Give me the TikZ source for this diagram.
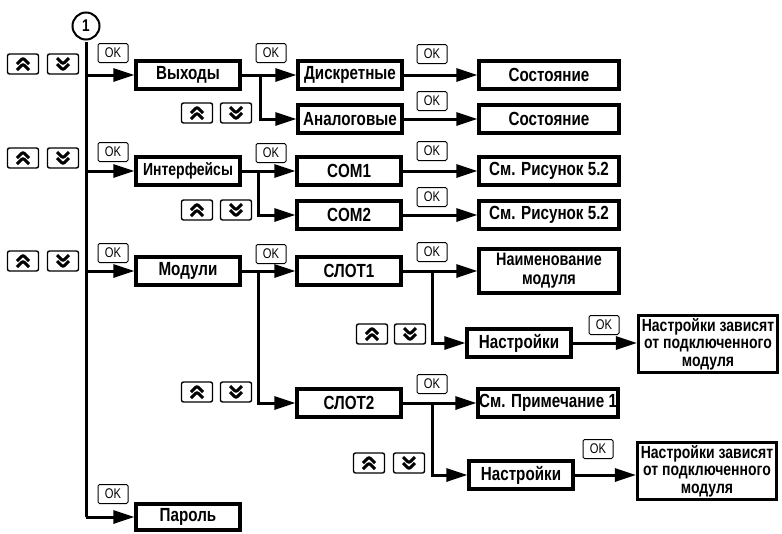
\documentclass[tikz,border=0pt]{standalone}
\usepackage{fontspec}
\setmainfont{Liberation Sans}[FakeStretch=0.8]
\usetikzlibrary{arrows.meta,calc}
\begin{document}
\begin{tikzpicture}[x=1pt,y=-1pt,
  box/.style={draw, line width=3.2pt, inner sep=0pt, align=center,
    minimum width=104pt, minimum height=28pt,
    font=\bfseries\fontsize{19}{20}\selectfont},
  wbox/.style={box, minimum width=140pt},
  dbox/.style={box, minimum width=139pt, minimum height=57pt,
    font=\bfseries\fontsize{17.5}{17.5}\selectfont},
  okbox/.style={draw, line width=1pt, rounded corners=1.5pt, inner sep=0pt,
    minimum width=30pt, minimum height=19pt, font=\fontsize{14}{14}\selectfont},
  keybox/.style={draw, line width=1.4pt, rounded corners=2pt, inner sep=0pt,
    minimum width=31pt, minimum height=20pt},
  keyup/.style={keybox, path picture={
    \draw[line width=3pt, shift={(path picture bounding box.center)}]
      (-6,0) -- (0,-6) -- (6,0) (-6,6) -- (0,0) -- (6,6);}},
  keydn/.style={keybox, path picture={
    \draw[line width=3pt, shift={(path picture bounding box.center)}]
      (-6,-6) -- (0,0) -- (6,-6) (-6,0) -- (0,6) -- (6,0);}},
  conn/.style={line width=3pt},
  arr/.style={conn, -{Triangle[length=21pt,width=13pt]}}
]
\useasboundingbox (0,0) rectangle (782,533);

% circle marker
\node[draw, circle, line width=2pt, minimum size=27pt, inner sep=0pt,
  font=\bfseries\fontsize{17}{17}\selectfont] (c1) at (86,26) {1};

% first column
\node[box] (vyh) at (188,75) {Выходы};
\node[box, font=\bfseries\fontsize{17.5}{19}\selectfont] (intf) at (188,171) {Интерфейсы};
\node[box] (mod) at (188,271) {Модули};
\node[box, minimum height=26pt] (par) at (188,517) {Пароль};

% second column
\node[box] (disk) at (350,75) {Дискретные};
\node[box] (anal) at (350,119) {Аналоговые};
\node[box] (com1) at (349,171) {COM1};
\node[box] (com2) at (349,215) {COM2};
\node[box] (sl1) at (349,271) {СЛОТ1};
\node[box] (sl2) at (349,403) {СЛОТ2};

% third column
\node[wbox] (st1) at (549,75) {Состояние};
\node[wbox] (st2) at (549,119) {Состояние};
\node[wbox] (ri1) at (549,171) {См. Рисунок 5.2};
\node[wbox] (ri2) at (549,215) {См. Рисунок 5.2};
\node[wbox, minimum height=44pt, font=\bfseries\fontsize{18}{19}\selectfont] (nam) at (549,271) {Наименование\\модуля};
\node[box] (ns1) at (519,343) {Настройки};
\node[wbox] (prim) at (548,403) {См. Примечание 1};
\node[box] (ns2) at (521,475) {Настройки};

% fourth column
\node[dbox] (dep1) at (708,344) {Настройки зависят\\от подключенного\\модуля};
\node[dbox] (dep2) at (707,471) {Настройки зависят\\от подключенного\\модуля};

% main line
\coordinate (mtop) at (86,42);
\coordinate (mbot) at (86,517);
\draw[conn] (mtop) -- (mbot);
\draw[arr] (mbot) -- (par);
\draw[arr] (mtop |- vyh) -- (vyh);
\draw[arr] (mtop |- intf) -- (intf);
\draw[arr] (mtop |- mod) -- (mod);

% branches
\coordinate (b1) at (260,75);
\coordinate (b2) at (258,171);
\coordinate (b3) at (258,271);
\coordinate (b4) at (432,271);
\coordinate (b5) at (432,403);
\draw[arr] (vyh) -- (disk);
\draw[arr] (b1) |- (anal);
\draw[arr] (intf) -- (com1);
\draw[arr] (b2) |- (com2);
\draw[arr] (mod) -- (sl1);
\draw[arr] (b3) |- (sl2);
\draw[arr] (disk) -- (st1);
\draw[arr] (anal) -- (st2);
\draw[arr] (com1) -- (ri1);
\draw[arr] (com2) -- (ri2);
\draw[arr] (sl1) -- (nam);
\draw[arr] (b4) |- (ns1);
\draw[arr] (ns1.east) -- (ns1.east -| dep1.west);
\draw[arr] (sl2) -- (prim);
\draw[arr] (b5) |- (ns2);
\draw[arr] (ns2.east) -- (ns2.east -| dep2.west);

% OK labels
\node[okbox] (ok1) at (113,53) {OK};
\node[okbox] (ok2) at (113,152) {OK};
\node[okbox] (ok3) at (113,253) {OK};
\node[okbox] (ok4) at (113,494) {OK};
\node[okbox] (ok5) at (271,53) {OK};
\node[okbox] (ok6) at (271,153) {OK};
\node[okbox] (ok7) at (271,254) {OK};
\node[okbox] (ok8) at (432,54) {OK};
\node[okbox] (ok9) at (432,101) {OK};
\node[okbox] (ok10) at (432,151) {OK};
\node[okbox] (ok11) at (432,197) {OK};
\node[okbox] (ok12) at (432,252) {OK};
\node[okbox] (ok13) at (432,384) {OK};
\node[okbox] (ok14) at (604,325) {OK};
\node[okbox] (ok15) at (598,449) {OK};

% key pairs
\node[keyup] (ku1) at (23,64) {};  \node[keydn] (kd1) at (63,64) {};
\node[keyup] (ku2) at (23,158) {}; \node[keydn] (kd2) at (63,158) {};
\node[keyup] (ku3) at (23,261) {}; \node[keydn] (kd3) at (63,261) {};
\node[keyup] (ku4) at (197,113) {}; \node[keydn] (kd4) at (236,113) {};
\node[keyup] (ku5) at (197,210) {}; \node[keydn] (kd5) at (236,210) {};
\node[keyup] (ku6) at (197,392) {}; \node[keydn] (kd6) at (236,392) {};
\node[keyup] (ku7) at (372,334) {}; \node[keydn] (kd7) at (410,334) {};
\node[keyup] (ku8) at (369,463) {}; \node[keydn] (kd8) at (409,463) {};
\end{tikzpicture}
\end{document}
